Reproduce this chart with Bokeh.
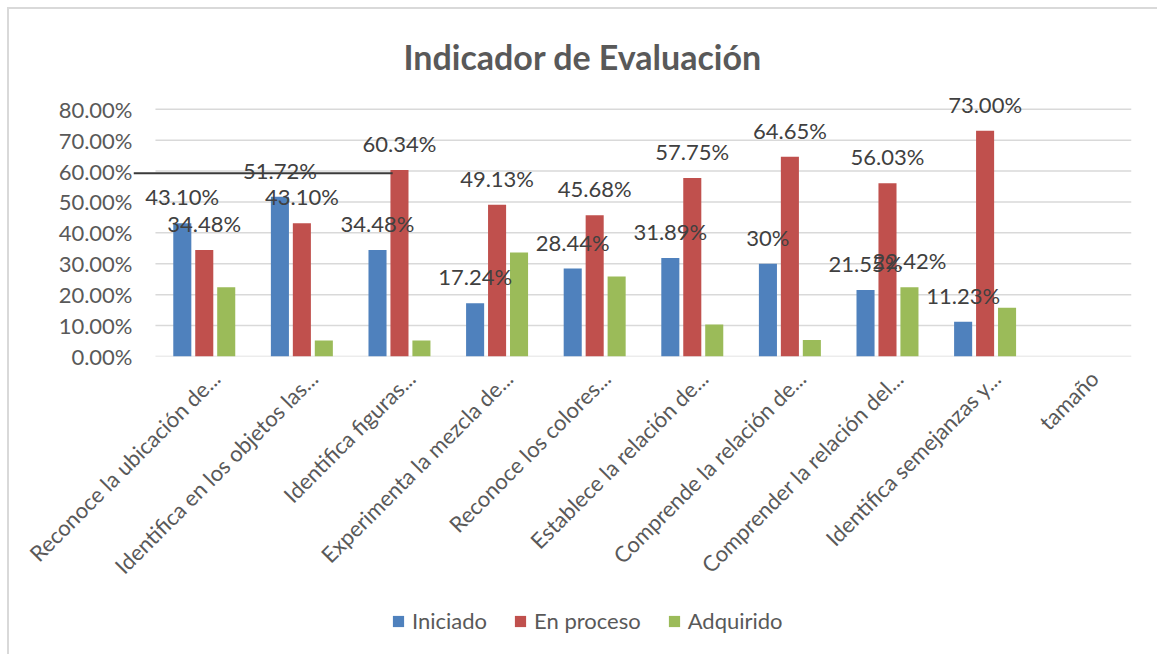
import math
from bokeh.plotting import figure
from bokeh.layouts import column
from bokeh.models import (Range1d, FixedTicker, PrintfTickFormatter, ColumnDataSource,
                          LabelSet, Legend, LegendItem)
from bokeh.core.properties import value
from bokeh.embed import file_html
from bokeh.resources import INLINE

NAN = float("nan")

categories = [
    "Reconoce la ubicación de...",
    "Identifica en los objetos las...",
    "Identifica figuras...",
    "Experimenta la mezcla de...",
    "Reconoce los colores...",
    "Establece la relación de...",
    "Comprende la relación de...",
    "Comprender la relación del...",
    "Identifica semejanzas y...",
    "tamaño",
]
series_names = ["Iniciado", "En proceso", "Adquirido"]
iniciado = [43.10, 51.72, 34.48, 17.24, 28.44, 31.89, 30.00, 21.55, 11.23, NAN]
en_proceso = [34.48, 43.10, 60.34, 49.13, 45.68, 57.75, 64.65, 56.03, 73.00, NAN]
adquirido = [22.42, 5.17, 5.17, 33.63, 25.88, 10.36, 5.35, 22.42, 15.77, NAN]
iniciado_labels = ["43.10%", "51.72%", "34.48%", "17.24%", "28.44%", "31.89%", "30%", "21.55%", "11.23%", ""]
en_proceso_labels = ["34.48%", "43.10%", "60.34%", "49.13%", "45.68%", "57.75%", "64.65%", "56.03%", "73.00%", ""]
adquirido_labels = ["", "", "", "", "", "", "", "22.42%", "", ""]
y_ticks = [0, 10, 20, 30, 40, 50, 60, 70, 80]

colors = ["#4F81BD", "#C0504D", "#9BBB59"]
FONT = "Lato"
TXT = "#595959"

n = len(categories)
xs = list(range(n))

W = 1148
H1, H2 = 590, 55
p = figure(width=W, height=H1, output_backend="svg", toolbar_location=None,
           x_range=Range1d(-0.725, n - 0.5), y_range=Range1d(0, 88),
           min_border_left=124, min_border_right=26, min_border_top=75,
           min_border_bottom=243)
p.outline_line_color = None
p.xgrid.visible = False
p.ygrid.visible = False

p.title.text = "Indicador de Evaluación"
p.title.align = "left"
p.title.offset = 270
p.title.standoff = 16
p.title.text_font = FONT
p.title.text_font_size = "34px"
p.title.text_font_style = "bold"
p.title.text_color = TXT

# gridlines
p.segment(x0=[-0.5] * len(y_ticks), x1=[n - 0.5] * len(y_ticks), y0=y_ticks, y1=y_ticks,
          line_color="#d9d9d9", line_width=1.5)

offsets = [-0.225, 0.0, 0.225]
vals = [iniciado, en_proceso, adquirido]
labs = [iniciado_labels, en_proceso_labels, adquirido_labels]
for k in range(3):
    src = ColumnDataSource(dict(x=[x + offsets[k] for x in xs], top=vals[k], lab=labs[k]))
    p.vbar(x="x", top="top", width=0.185, source=src, fill_color=colors[k], line_color=None)
    p.add_layout(LabelSet(x="x", y="top", text="lab", source=src, text_align="center",
                          text_baseline="alphabetic", y_offset=18,
                          text_font=value(FONT), text_font_size="22px", text_color="#404040"))

# stray line in the original
p.line(x=[-0.725, 1.93], y=[59.3, 59.3], line_color="#3a3a3a", line_width=2)

# axes
ya = p.yaxis[0]
ya.ticker = FixedTicker(ticks=y_ticks)
ya.formatter = PrintfTickFormatter(format="%.2f%%")
ya.axis_line_color = None
ya.major_tick_line_color = None
ya.minor_tick_line_color = None
ya.major_tick_out = 0
ya.major_tick_in = 0
ya.major_label_standoff = 1
ya.major_label_text_font = FONT
ya.major_label_text_font_size = "22px"
ya.major_label_text_color = TXT

shift = 0.12
xa = p.xaxis[0]
xa.ticker = FixedTicker(ticks=[x + shift for x in xs])
xa.major_label_overrides = {x + shift: c for x, c in zip(xs, categories)}
xa.major_label_orientation = math.pi / 4
xa.axis_line_color = None
xa.major_tick_line_color = None
xa.minor_tick_line_color = None
xa.major_tick_out = 0
xa.major_tick_in = 0
xa.major_label_standoff = 18
xa.major_label_text_font = FONT
xa.major_label_text_font_size = "22px"
xa.major_label_text_color = TXT

# legend strip (frame aligned with the chart frame by the column layout)
p2 = figure(width=W, height=H2, output_backend="svg", toolbar_location=None,
            x_range=Range1d(0, 1), y_range=Range1d(0, 1),
            x_axis_location=None, y_axis_location=None, min_border=0)
p2.outline_line_color = None
p2.xgrid.visible = False
p2.ygrid.visible = False
leg_r = [p2.vbar(x=[0.5], top=[0], bottom=[0], width=0.01, fill_color=colors[k], line_color=None)
         for k in range(3)]
legend = Legend(items=[LegendItem(label=series_names[k], renderers=[leg_r[k]]) for k in range(3)],
                orientation="horizontal", location=(258, 20))
legend.border_line_color = None
legend.background_fill_alpha = 0
legend.padding = 0
legend.margin = 0
legend.spacing = 26
legend.label_standoff = 7
legend.glyph_width = 14
legend.glyph_height = 14
legend.label_text_font = FONT
legend.label_text_font_size = "22px"
legend.label_text_color = TXT
p2.add_layout(legend)

layout = column(p, p2, spacing=0)
layout.styles = {"margin": "7px 0 0 7px", "border-top": "2px solid #d9d9d9",
                 "border-left": "2px solid #d9d9d9"}

open("out.html", "w").write(file_html(layout, INLINE))
